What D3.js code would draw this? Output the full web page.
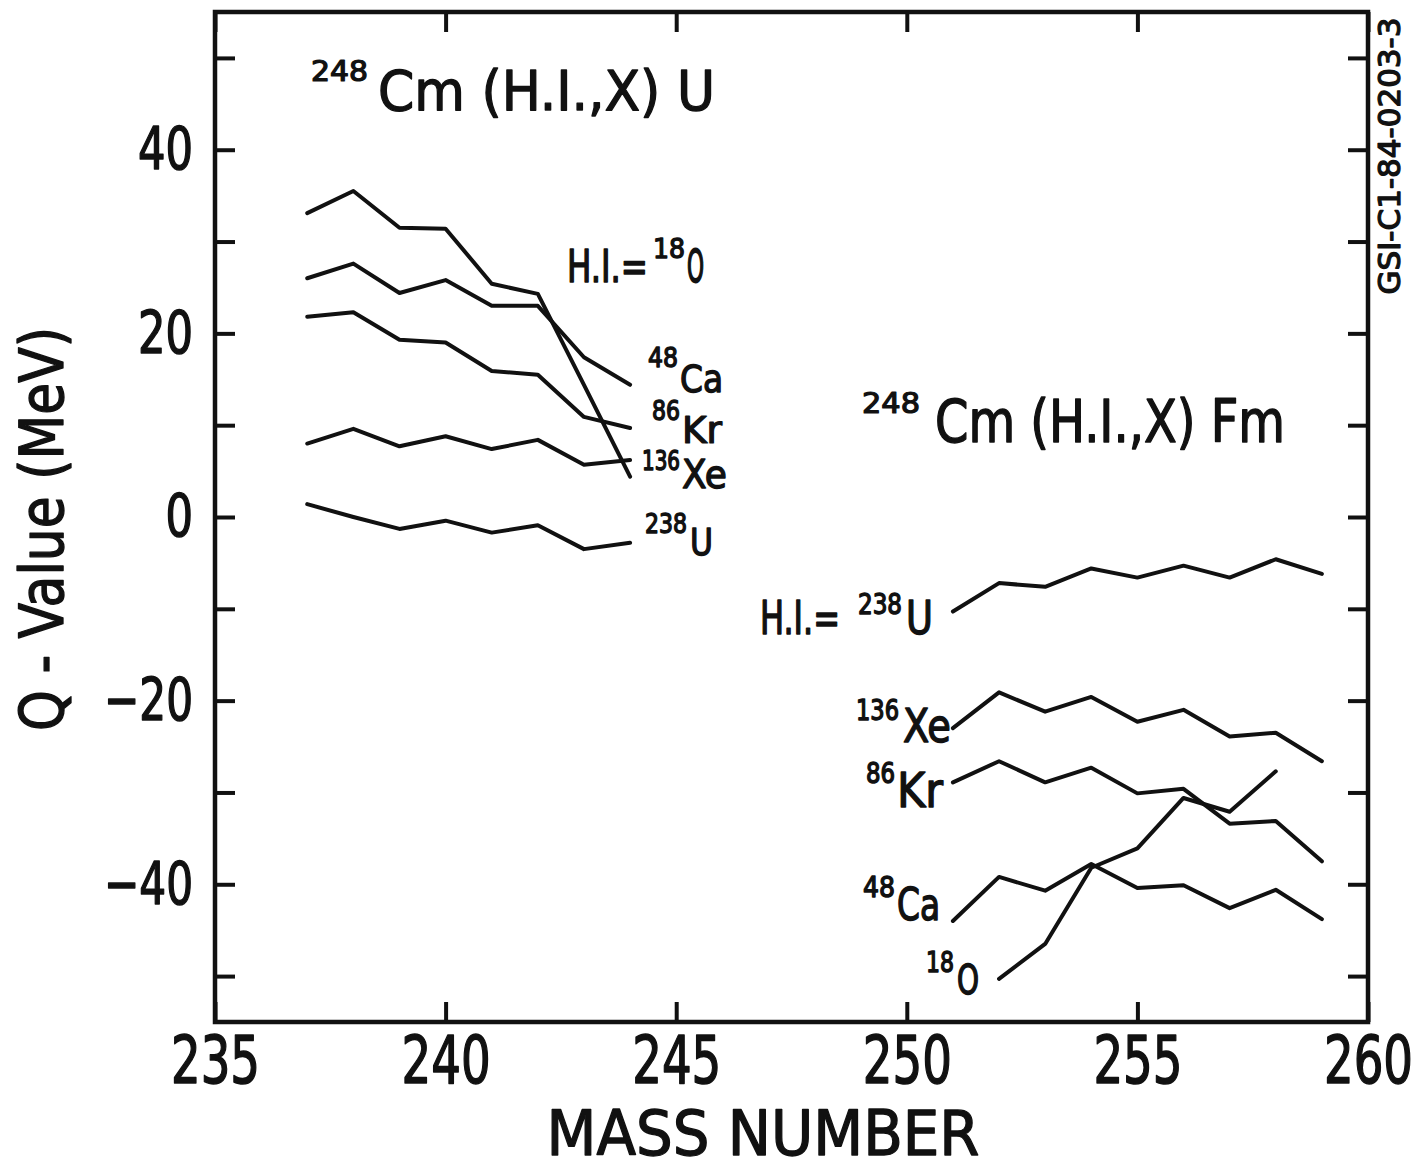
<!DOCTYPE html>
<html><head><meta charset="utf-8">
<script src="https://cdn.jsdelivr.net/npm/d3@7"></script>
<style>
html,body{margin:0;padding:0;background:#fff;}
svg{display:block;}
</style></head>
<body>
<svg id="chart" width="1420" height="1170"></svg>
<script>
// ---------------- data ----------------
const massU  = [237, 238, 239, 240, 241, 242, 243, 244];
const qU_O18  = [33.1, 35.5, 31.5, 31.4, 25.4, 24.3, 14.4, 4.4];
const qU_Ca48 = [26.0, 27.6, 24.4, 25.8, 23.0, 23.0, 17.4, 14.4];
const qU_Kr86 = [21.8, 22.3, 19.3, 19.0, 15.9, 15.5, 10.9, 9.7];
const qU_Xe136= [8.0, 9.6, 7.7, 8.8, 7.4, 8.4, 5.7, 6.2];
const qU_U238 = [1.4, 0.0, -1.3, -0.4, -1.7, -0.9, -3.5, -2.8];

const massFm   = [251, 252, 253, 254, 255, 256, 257, 258, 259];
const massFmO  = [252, 253, 254, 255, 256, 257, 258];
const qFm_U238 = [-10.3, -7.2, -7.6, -5.6, -6.6, -5.3, -6.6, -4.6, -6.2];
const qFm_Xe136= [-23.0, -19.1, -21.2, -19.6, -22.3, -21.0, -23.9, -23.5, -26.6];
const qFm_Kr86 = [-28.9, -26.6, -28.9, -27.3, -30.1, -29.6, -33.4, -33.1, -37.5];
const qFm_Ca48 = [-44.0, -39.2, -40.7, -37.8, -40.4, -40.1, -42.6, -40.6, -43.8];
const qFm_O18  = [-50.3, -46.5, -38.2, -36.1, -30.6, -32.1, -27.7];

const xTicks = [235, 240, 245, 250, 255, 260];
const yTicks = [50, 40, 30, 20, 10, 0, -10, -20, -30, -40, -50];
const yTickLabels = [40, 20, 0, -20, -40];

const xTitle = "MASS NUMBER";
const yTitle = "Q - Value (MeV)";
const stamp = "GSI-C1-84-0203-3";
const titleU = ["248", "Cm (H.I.,X) U"];
const titleFm = ["248", "Cm (H.I.,X) Fm"];
const labelsU = [["H.I.=", "18", "O"], ["", "48", "Ca"], ["", "86", "Kr"], ["", "136", "Xe"], ["", "238", "U"]];
const labelsFm = [["H.I.=", "238", "U"], ["", "136", "Xe"], ["", "86", "Kr"], ["", "48", "Ca"], ["", "18", "O"]];

// ---------------- layout ----------------
const FONT = "'DejaVu Sans Condensed','DejaVu Sans',sans-serif";
const ink = "#111";
const svg = d3.select("#chart");
svg.append("rect").attr("width", 1420).attr("height", 1170).attr("fill", "#fff");

const x = d3.scaleLinear().domain([235, 260]).range([215, 1368]);
const y = d3.scaleLinear().domain([-55, 55]).range([1022, 12]);

// horizontally squeeze a text element to a target width (keeps its x anchor)
function squeeze(sel, target) {
  sel.each(function(d, i) {
    const t = typeof target === "function" ? target(d, i) : target;
    if (!t) return;
    const w = this.getComputedTextLength();
    if (!w) return;
    const k = t / w;
    const el = d3.select(this);
    const x0 = +(el.attr("x") || 0);
    el.attr("x", x0 / k);
    const tr = el.attr("transform") || "";
    el.attr("transform", (tr ? tr + " " : "") + `scale(${k},1)`);
    el.attr("stroke-width", 1.3 / Math.sqrt(k));
  });
}
function inkText(sel, size) {
  return sel.attr("font-family", FONT).attr("font-size", size).attr("fill", ink)
    .attr("stroke", ink).attr("stroke-width", 1.3).attr("stroke-linejoin", "round");
}

const line = d3.line().x(d => x(d[0])).y(d => y(d[1]));
const seriesU = [qU_O18, qU_Ca48, qU_Kr86, qU_Xe136, qU_U238].map(v => massU.map((m, i) => [m, v[i]]));
const seriesFm = [
  massFm.map((m, i) => [m, qFm_U238[i]]),
  massFm.map((m, i) => [m, qFm_Xe136[i]]),
  massFm.map((m, i) => [m, qFm_Kr86[i]]),
  massFm.map((m, i) => [m, qFm_Ca48[i]]),
  massFmO.map((m, i) => [m, qFm_O18[i]])
];
svg.append("g").selectAll("path").data(seriesU.concat(seriesFm)).join("path")
  .attr("d", line).attr("fill", "none").attr("stroke", ink)
  .attr("stroke-width", 4).attr("stroke-linejoin", "round").attr("stroke-linecap", "round");

// axes (ticks inward)
function styleAxis(g) {
  g.select(".domain").remove();
  g.selectAll(".tick line").attr("stroke", ink).attr("stroke-width", 4);
}
svg.append("g").attr("transform", `translate(0,${y(-55)})`)
  .call(d3.axisBottom(x).tickValues(xTicks).tickSize(-20).tickPadding(14).tickFormat(d3.format("d")))
  .call(styleAxis)
  .call(g => { const t = g.selectAll("text"); inkText(t, 66); squeeze(t, 89); });
svg.append("g").attr("transform", `translate(0,${y(55)})`)
  .call(d3.axisTop(x).tickValues(xTicks).tickSize(-20).tickFormat(""))
  .call(styleAxis);
svg.append("g").attr("transform", `translate(${x(235)},0)`)
  .call(d3.axisLeft(y).tickValues(yTicks).tickSize(-20).tickPadding(22)
      .tickFormat(d => yTickLabels.includes(d) ? (d < 0 ? "\u2212" + Math.abs(d) : String(d)) : ""))
  .call(styleAxis)
  .call(g => { const t = g.selectAll("text").filter(d => yTickLabels.includes(d)); inkText(t, 59);
      squeeze(t, d => String(Math.abs(d)).length * 27.5 + (d < 0 ? 34 : 0)); });
svg.append("g").attr("transform", `translate(${x(260)},0)`)
  .call(d3.axisRight(y).tickValues(yTicks).tickSize(-20).tickFormat(""))
  .call(styleAxis);

// frame
svg.append("rect").attr("x", x(235)).attr("y", y(55))
  .attr("width", x(260) - x(235)).attr("height", y(-55) - y(55))
  .attr("fill", "none").attr("stroke", ink).attr("stroke-width", 4.5);

// axis titles
squeeze(inkText(svg.append("text"), 62).attr("transform", "translate(763,1155)")
  .attr("text-anchor", "middle").text(xTitle), 433);
squeeze(inkText(svg.append("text"), 60).attr("transform", "translate(63,529) rotate(-90)")
  .attr("text-anchor", "middle").text(yTitle), 404);
squeeze(inkText(svg.append("text"), 31).attr("transform", "translate(1400,156) rotate(-90)")
  .attr("text-anchor", "middle").attr("stroke-width", 0.6).text(stamp), 277);

// annotation helper: prefix + superscript mass number + element
function iso(parts, L) {
  const g = svg.append("g");
  if (parts[0]) {
    squeeze(inkText(g.append("text"), L.fs).attr("x", L.px).attr("y", L.base).text(parts[0]), L.pw);
  }
  squeeze(inkText(g.append("text"), L.ss).attr("x", L.sx).attr("y", L.base - L.rise).text(parts[1]), L.sw);
  squeeze(inkText(g.append("text"), L.fs).attr("x", L.mx).attr("y", L.base).text(parts[2]), L.mw);
}

iso(["", titleU[0], titleU[1]], {sx: 311, sw: 57, ss: 29, rise: 29, mx: 378, mw: 337, fs: 56, base: 110});
iso(["", titleFm[0], titleFm[1]], {sx: 862, sw: 58, ss: 29, rise: 29, mx: 935, mw: 350, fs: 58, base: 442});

const layU = [
  {px: 567, pw: 81, sx: 653, sw: 32, mx: 687, mw: 17, base: 282, rise: 24, fs: 44, ss: 27},
  {sx: 648, sw: 30, mx: 680, mw: 43, base: 392, rise: 25, fs: 38, ss: 27},
  {sx: 652, sw: 28, mx: 682, mw: 40, base: 443, rise: 23, fs: 37, ss: 27},
  {sx: 642, sw: 38, mx: 682, mw: 45, base: 488, rise: 18, fs: 39, ss: 27},
  {sx: 645, sw: 42, mx: 690, mw: 23, base: 555, rise: 22, fs: 37, ss: 27}
];
const layFm = [
  {px: 760, pw: 80, sx: 858, sw: 44, mx: 906, mw: 27, base: 634, rise: 20, fs: 46, ss: 28},
  {sx: 856, sw: 43, mx: 903, mw: 48, base: 742, rise: 22, fs: 46, ss: 28},
  {sx: 866, sw: 29, mx: 897, mw: 46, base: 807, rise: 24, fs: 48, ss: 28},
  {sx: 863, sw: 32, mx: 897, mw: 43, base: 920, rise: 23, fs: 44, ss: 28},
  {sx: 926, sw: 28, mx: 957, mw: 22, base: 994, rise: 22, fs: 40, ss: 28}
];
labelsU.forEach((p, i) => iso(p, layU[i]));
labelsFm.forEach((p, i) => iso(p, layFm[i]));
</script>
</body></html>
